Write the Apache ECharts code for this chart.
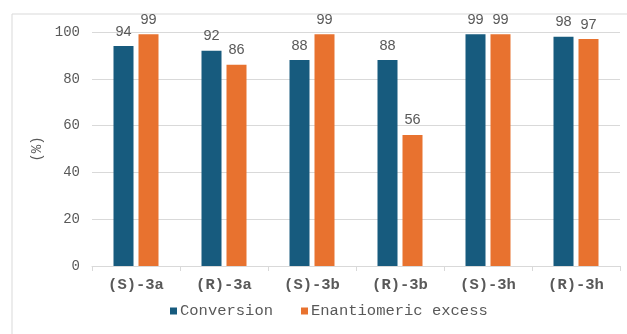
<!DOCTYPE html>
<html>
<head>
<meta charset="utf-8">
<script src="https://cdn.jsdelivr.net/npm/echarts@6/dist/echarts.min.js"></script>
<style>
  html, body { margin: 0; padding: 0; background: #fff; }
  #chart { width: 627px; height: 334px; }
</style>
</head>
<body>
<div id="chart"></div>
<script>
// categories and series values
const categories = ['(S)-3a', '(R)-3a', '(S)-3b', '(R)-3b', '(S)-3h', '(R)-3h']
const conversion = [94, 92, 88, 88, 99, 98]
const enantiomericExcess = [99, 86, 99, 56, 99, 97]
const yTicks = [0, 20, 40, 60, 80, 100]

const MONO = '"Liberation Mono", "DejaVu Sans Mono", monospace'
const SANS = '"Liberation Sans", Arial, sans-serif'
const TEXT = '#595959'
const GRID_LINE = '#d9d9d9'

const chart = echarts.init(document.getElementById('chart'))

const labelStyle = { show: true, position: 'top', distance: 7, color: TEXT, fontFamily: SANS, fontSize: 14.5 }

chart.setOption({
  animation: false,
  backgroundColor: '#fff',
  color: ['#175b7e', '#e8722f'],
  graphic: [
    {
      type: 'rect',
      shape: { x: 12, y: 14, width: 640, height: 340 },
      style: { fill: 'none', stroke: GRID_LINE, lineWidth: 1 },
      silent: true,
    },
  ],
  grid: { left: 92, right: 7, top: 32, bottom: 68 },
  legend: {
    bottom: 10,
    left: 165,
    itemWidth: 7,
    itemHeight: 7,
    itemGap: 28,
    icon: 'rect',
    textStyle: { color: TEXT, fontFamily: MONO, fontSize: 15.5, padding: [0, 0, 0, -2] },
    data: ['Conversion', 'Enantiomeric excess'],
  },
  xAxis: {
    type: 'category',
    data: categories,
    axisLine: { lineStyle: { color: GRID_LINE } },
    axisTick: { show: true, length: 5, lineStyle: { color: GRID_LINE } },
    axisLabel: { color: TEXT, fontFamily: MONO, fontWeight: 'bold', fontSize: 15.5, margin: 11 },
  },
  yAxis: {
    type: 'value',
    min: yTicks[0],
    max: yTicks[yTicks.length - 1],
    interval: 20,
    name: '(%)',
    nameLocation: 'middle',
    nameGap: 43,
    nameTextStyle: { color: TEXT, fontFamily: MONO, fontSize: 14 },
    axisLine: { show: false },
    axisTick: { show: false },
    axisLabel: { color: TEXT, fontFamily: MONO, fontSize: 14, margin: 12 },
    splitLine: { lineStyle: { color: GRID_LINE } },
  },
  series: [
    {
      name: 'Conversion',
      type: 'bar',
      data: conversion,
      barWidth: 20,
      barGap: '25%',
      label: labelStyle,
    },
    {
      name: 'Enantiomeric excess',
      type: 'bar',
      data: enantiomericExcess,
      barWidth: 20,
      label: labelStyle,
    },
  ],
})
</script>
</body>
</html>
